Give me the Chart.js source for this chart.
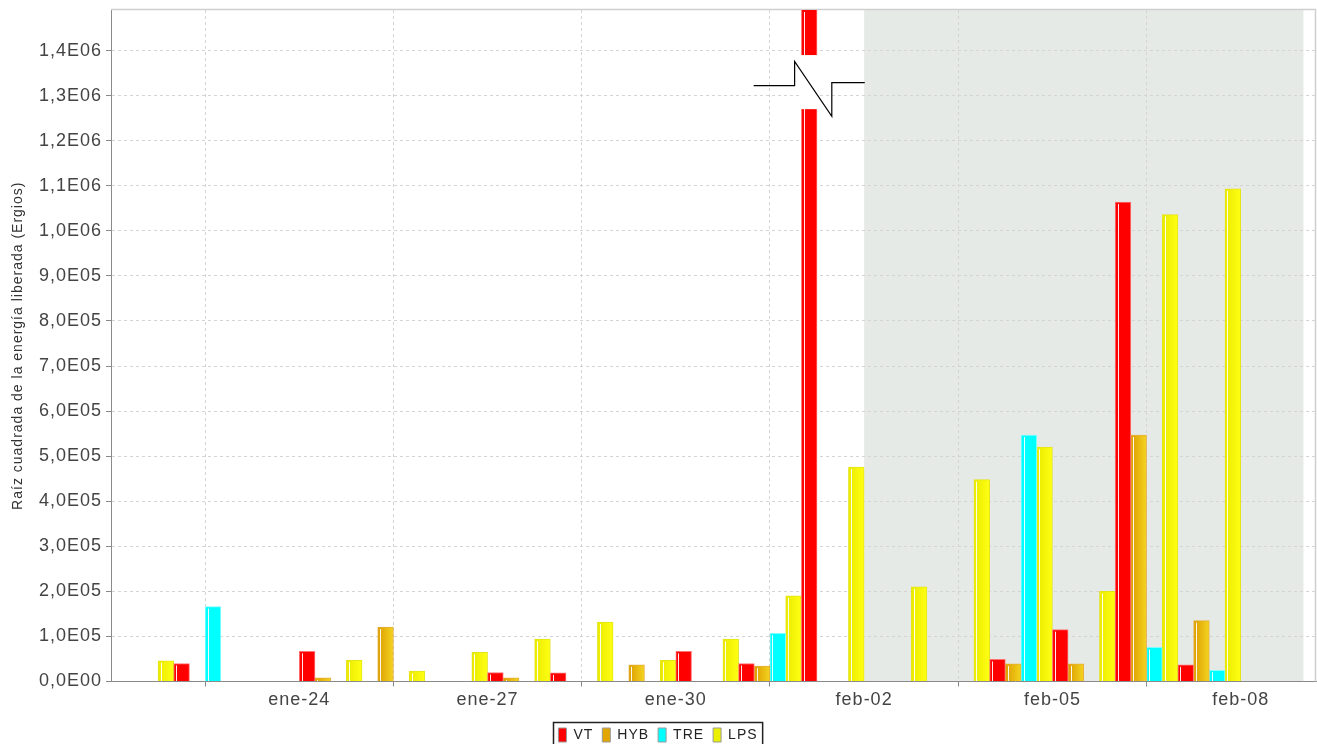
<!DOCTYPE html>
<html>
<head>
<meta charset="utf-8">
<script src="https://cdn.jsdelivr.net/npm/chart.js@4.4.1/dist/chart.umd.min.js"></script>
<style>
  html, body { margin: 0; padding: 0; background: #fff; overflow: hidden; }
  #wrap { width: 1317px; height: 752px; }
  canvas { display: block; background: #fff; }
</style>
</head>
<body>
<div id="wrap"><canvas id="chart" width="1317" height="752"></canvas></div>
<script>
// Days on the horizontal axis (one bar group per day)
const days = [
  'ene-21', 'ene-22', 'ene-23', 'ene-24', 'ene-25', 'ene-26', 'ene-27', 'ene-28',
  'ene-29', 'ene-30', 'ene-31', 'feb-01', 'feb-02', 'feb-03', 'feb-04', 'feb-05',
  'feb-06', 'feb-07', 'feb-08'
];

const seriesNames = ['VT', 'HYB', 'TRE', 'LPS'];

// Square root of released energy (ergs) per day and event type
const vtValues  = [null, 4.0e4, null, 6.7e4, null, null, 2.0e4, 1.9e4, null, 6.7e4, 4.0e4,
                   2.6e6, null, null, 4.9e4, 1.15e5, 1.064e6, 3.7e4, null];
const hybValues = [null, null, null, 8e3, 1.21e5, null, 8e3, null, 3.7e4, null, 3.4e4,
                   null, null, null, 3.9e4, 3.9e4, 5.47e5, 1.35e5, null];
const treValues = [null, 1.66e5, null, null, null, null, null, null, null, null, 1.07e5,
                   null, null, null, 5.47e5, null, 7.6e4, 2.5e4, null];
const lpsValues = [4.6e4, null, null, 4.7e4, 2.3e4, 6.5e4, 9.4e4, 1.32e5, 4.7e4, 9.4e4, 1.9e5,
                   4.76e5, 2.1e5, 4.48e5, 5.2e5, 2.0e5, 1.036e6, 1.093e6, null];

// Highlighted period (from the start of this day to the end of the last day)
const shadedFrom = 'feb-02';

// Axis settings
const yMax = 1.49e6;
const yStep = 1e5;
const xMax = 19.2;
const labelEvery = 3;
// Value band hidden on bars that run past the top of the axis
const breakBand = [1.27e6, 1.39e6];

const FONT = '"Liberation Sans", Arial, sans-serif';

const colors = {
  VT:  { fill: '#ff0000', edge: '#ff7070', legend: '#ff0000' },
  HYB: { fill: ['#dc9c00', '#f4d420'], edge: '#e6ae3a', legend: '#e3a500' },
  TRE: { fill: '#00ffff', edge: '#80ffff', legend: '#00ffff' },
  LPS: { fill: ['#eaea00', '#ffff14'], edge: '#e4e41a', legend: '#eaf000' }
};

function sci(v) {
  if (Math.abs(v) < 1e-9) return '0,0E00';
  let e = Math.floor(Math.log10(v) + 1e-9);
  let m = v / Math.pow(10, e);
  if (Math.round(m * 10) / 10 >= 10) { m /= 10; e += 1; }
  return m.toFixed(1).replace('.', ',') + 'E' + String(e).padStart(2, '0');
}

function points(values) {
  const out = [];
  values.forEach((v, i) => { if (v !== null) out.push({ x: i + 0.5, y: v }); });
  return out;
}

// Horizontal gradient across each bar once its position is known
function barFill(name) {
  const c = colors[name];
  if (!Array.isArray(c.fill)) return c.fill;
  return (ctx) => {
    const el = ctx.element;
    if (!el || typeof el.x !== 'number' || !isFinite(el.x) || !el.width) return c.fill[0];
    const g = ctx.chart.ctx.createLinearGradient(el.x - el.width / 2, 0, el.x + el.width / 2, 0);
    g.addColorStop(0, c.fill[0]);
    g.addColorStop(1, c.fill[1]);
    return g;
  };
}

const seriesValues = [vtValues, hybValues, treValues, lpsValues];
const datasets = seriesNames.map((name, k) => ({
  label: name,
  data: points(seriesValues[k]),
  backgroundColor: barFill(name),
  borderColor: colors[name].edge,
  borderWidth: 1,
  borderSkipped: 'bottom',
  barPercentage: 1,
  categoryPercentage: 1
}));

const spacing = {
  id: 'spacing',
  beforeUpdate(chart) { chart.ctx.letterSpacing = '1px'; },
  beforeDraw(chart) { chart.ctx.letterSpacing = '1px'; }
};

const background = {
  id: 'background',
  beforeDraw(chart) {
    const { ctx, chartArea: a, scales: { x } } = chart;
    const from = x.getPixelForValue(days.indexOf(shadedFrom));
    const to = x.getPixelForValue(days.length);
    ctx.save();
    ctx.fillStyle = '#e6eae7';
    ctx.fillRect(from, a.top, to - from, a.bottom - a.top);
    ctx.restore();
  },
  beforeDatasetsDraw(chart) {
    const { ctx, chartArea: a } = chart;
    ctx.save();
    ctx.strokeStyle = '#cfcfcf';
    ctx.lineWidth = 1.5;
    ctx.beginPath();
    ctx.moveTo(a.left, a.top - 0.5);
    ctx.lineTo(a.right - 0.5, a.top - 0.5);
    ctx.lineTo(a.right - 0.5, a.bottom);
    ctx.stroke();
    ctx.restore();
  }
};

const barDecor = {
  id: 'barDecor',
  afterDatasetsDraw(chart) {
    const { ctx, chartArea: a, scales: { y } } = chart;
    ctx.save();
    ctx.beginPath();
    ctx.rect(a.left, a.top, a.right - a.left, a.bottom - a.top);
    ctx.clip();
    // light streak near the left edge of every bar
    chart.data.datasets.forEach((ds, di) => {
      chart.getDatasetMeta(di).data.forEach((bar) => {
        const left = bar.x - bar.width / 2;
        const top = Math.max(bar.y, a.top);
        if (bar.base - top < 3) return;
        ctx.fillStyle = 'rgba(255,255,255,0.92)';
        ctx.fillRect(Math.round(left + 2.5), top + 2, 1, bar.base - top - 2);
      });
    });
    ctx.restore();

    // axis break on bars taller than the axis
    const hi = y.getPixelForValue(breakBand[1]);
    const lo = y.getPixelForValue(breakBand[0]);
    chart.data.datasets.forEach((ds, di) => {
      chart.getDatasetMeta(di).data.forEach((bar, i) => {
        if (ds.data[i].y <= y.max) return;
        const w = bar.width, cx = bar.x;
        ctx.save();
        ctx.fillStyle = '#ffffff';
        ctx.fillRect(cx - w / 2 - 1, hi, w + 2, lo - hi);
        ctx.strokeStyle = '#000000';
        ctx.lineWidth = 1.2;
        ctx.beginPath();
        ctx.moveTo(cx - 3.54 * w, y.getPixelForValue(1.322e6));
        ctx.lineTo(cx - 0.93 * w, y.getPixelForValue(1.322e6));
        ctx.lineTo(cx - 0.93 * w, y.getPixelForValue(1.376e6));
        ctx.lineTo(cx + 1.44 * w, y.getPixelForValue(1.254e6));
        ctx.lineTo(cx + 1.44 * w, y.getPixelForValue(1.329e6));
        ctx.lineTo(cx + 3.54 * w, y.getPixelForValue(1.329e6));
        ctx.stroke();
        ctx.restore();
      });
    });
  }
};

const legendFrame = {
  id: 'legendFrame',
  afterDraw(chart) {
    const boxes = chart.legend && chart.legend.legendHitBoxes;
    if (!boxes || !boxes.length) return;
    const left = Math.min(...boxes.map(b => b.left)) - 5;
    const right = Math.max(...boxes.map(b => b.left + b.width)) + 5;
    const top = boxes[0].top - 6;
    const bottom = boxes[0].top + boxes[0].height + 6;
    const { ctx } = chart;
    ctx.save();
    ctx.strokeStyle = '#222';
    ctx.lineWidth = 1.5;
    ctx.strokeRect(Math.round(left) + 0.5, Math.round(top) + 0.5, right - left, bottom - top);
    ctx.restore();
  }
};

const chart = new Chart(document.getElementById('chart'), {
  type: 'bar',
  data: { datasets },
  plugins: [spacing, background, barDecor, legendFrame],
  options: {
    responsive: false,
    devicePixelRatio: 1,
    animation: false,
    layout: { padding: { top: 10, right: 1, left: 0, bottom: 0 } },
    plugins: {
      tooltip: { enabled: false },
      legend: {
        position: 'bottom',
        labels: {
          boxWidth: 8,
          boxHeight: 14,
          padding: 9,
          color: '#222',
          font: { family: FONT, size: 14 },
          generateLabels(c) {
            const items = Chart.defaults.plugins.legend.labels.generateLabels(c);
            items.forEach((it) => {
              it.fillStyle = colors[it.text].legend;
              it.strokeStyle = '#999';
              it.lineWidth = 1;
            });
            return items;
          }
        }
      }
    },
    scales: {
      x: {
        type: 'linear',
        min: 0,
        max: xMax,
        offset: false,
        afterBuildTicks(scale) {
          const t = [];
          for (let d = labelEvery; d < days.length; d += labelEvery) t.push({ value: d });
          scale.ticks = t;
        },
        afterFit(scale) {
          scale.height = 37.5;
          scale.paddingLeft = 0;
          scale.paddingRight = 0;
        },
        ticks: {
          autoSkip: false,
          maxRotation: 0,
          padding: 3,
          color: '#444',
          font: { family: FONT, size: 18 },
          callback: (v) => days[v] || ''
        },
        grid: { color: '#d4d4d4', lineWidth: 1, tickLength: 5, tickColor: '#888', drawTicks: true },
        border: { color: '#8a8a8a', width: 1, dash: [3, 3] }
      },
      y: {
        min: 0,
        max: yMax,
        afterBuildTicks(scale) {
          const t = [];
          for (let k = 0; k * yStep <= yMax; k++) t.push({ value: k * yStep });
          scale.ticks = t;
        },
        afterFit(scale) {
          scale.width = 111;
          scale.paddingTop = 0;
          scale.paddingBottom = 0;
        },
        ticks: {
          autoSkip: false,
          padding: 4,
          color: '#444',
          font: { family: FONT, size: 18 },
          callback: (v) => sci(v)
        },
        title: {
          display: true,
          text: 'Raíz cuadrada de la energía liberada (Ergios)',
          color: '#333',
          font: { family: FONT, size: 14 },
          padding: { top: 10, bottom: 0 }
        },
        grid: { color: '#d4d4d4', lineWidth: 1, tickLength: 5, tickColor: '#888', drawTicks: true },
        border: { color: '#8a8a8a', width: 1, dash: [3, 3] }
      }
    }
  }
});
// second pass so the gradient fills follow the laid-out bars
chart.update('none');
</script>
</body>
</html>
